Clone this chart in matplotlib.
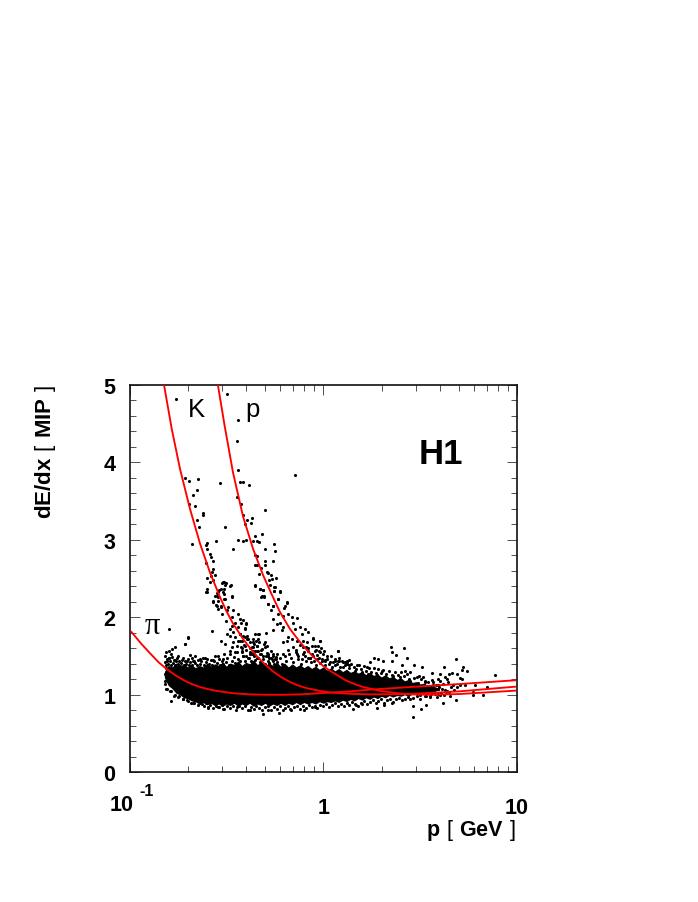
import numpy as np
import matplotlib
matplotlib.use("Agg")
import matplotlib.pyplot as plt
from matplotlib.ticker import LogLocator, NullFormatter

plt.rcParams['font.family'] = ['Liberation Sans', 'DejaVu Sans']
plt.rcParams['mathtext.fontset'] = 'custom'
plt.rcParams['mathtext.rm'] = 'Liberation Sans'
plt.rcParams['mathtext.bf'] = 'Liberation Sans:bold'

# curves: log10(p), dE/dx
pion_lp = [-0.99,-0.94,-0.892,-0.85,-0.807,-0.765,-0.722,-0.68,-0.636,-0.59,-0.55,-0.466,-0.378,-0.29,-0.205,-0.12,-0.017,0.12,0.241,0.448,0.706,0.99]
pion_d = [1.81,1.66,1.53,1.42,1.33,1.255,1.19,1.14,1.10,1.07,1.05,1.02,1.005,1.0,1.0,1.005,1.02,1.04,1.066,1.10,1.139,1.187]
kaon_lp = [-0.822,-0.782,-0.739,-0.688,-0.636,-0.585,-0.533,-0.5,-0.466,-0.414,-0.38,-0.343,-0.3,-0.259,-0.215,-0.172,-0.13,-0.085,-0.017,0.035,0.121,0.241,0.448,0.706,0.99]
kaon_d = [5.0,4.43,3.91,3.40,2.95,2.58,2.26,2.08,1.92,1.72,1.61,1.50,1.39,1.30,1.225,1.165,1.12,1.085,1.05,1.03,1.015,1.005,1.01,1.045,1.104]
proton_lp = [-0.544,-0.509,-0.466,-0.414,-0.362,-0.31,-0.267,-0.224,-0.172,-0.12,-0.085,-0.052,0.0,0.035,0.08,0.121,0.165,0.207,0.293,0.379,0.448,0.55,0.706,0.99]
proton_d = [5.0,4.47,3.87,3.30,2.88,2.54,2.30,2.07,1.85,1.68,1.58,1.49,1.37,1.31,1.24,1.18,1.135,1.10,1.05,1.022,1.005,1.0,1.01,1.053]

# dense core of the band: envelope
band_lp = [-.82,-.80,-.78,-.76,-.74,-.72,-.70,-.68,-.66,-.64,-.62,-.60,-.58,-.56,-.54,-.52,-.50,-.48,-.46,-.44,-.42,-.40,-.38,-.36,-.34,-.32,-.30,-.28,-.26,-.24,-.22,-.20,-.18,-.16,-.14,-.12,-.10,-.08,-.06,-.04,-.02,0,.02,.04,.06,.08,.10,.12,.14,.16,.18,.20,.22,.24,.26,.28,.30,.32,.34,.36,.38,.40,.42,.44,.46,.48,.50,.52,.54,.56,.58,.60]
band_top = [1.30,1.38,1.36,1.41,1.37,1.40,1.36,1.39,1.35,1.38,1.36,1.41,1.37,1.40,1.38,1.42,1.37,1.41,1.39,1.44,1.38,1.42,1.40,1.45,1.39,1.43,1.38,1.41,1.38,1.42,1.37,1.41,1.36,1.40,1.36,1.39,1.35,1.38,1.34,1.37,1.33,1.36,1.32,1.35,1.31,1.34,1.30,1.33,1.29,1.31,1.28,1.30,1.26,1.29,1.25,1.27,1.23,1.26,1.22,1.24,1.20,1.22,1.18,1.20,1.16,1.17,1.14,1.15,1.12,1.12,1.10,1.08]
band_bot = [1.22,1.12,1.08,1.02,1.00,.96,.95,.92,.91,.88,.90,.87,.89,.86,.88,.85,.88,.86,.89,.85,.88,.86,.89,.85,.88,.86,.89,.85,.88,.86,.89,.86,.89,.87,.90,.87,.90,.88,.90,.88,.91,.89,.91,.90,.92,.90,.93,.91,.94,.92,.95,.93,.96,.94,.97,.95,.98,.96,.99,.97,.99,.98,1.0,.98,1.01,1.0,1.02,1.01,1.03,1.03,1.05,1.06]

# individual tracks: log10(p), dE/dx
track_lp = [-0.758,-0.497,-0.442,-0.443,-0.442,-0.148,-0.712,-0.695,-0.645,-0.533,-0.430,-0.413,-0.383,-0.674,-0.650,-0.443,-0.695,-0.664,-0.426,-0.299,-0.622,-0.619,-0.412,-0.652,-0.643,-0.505,-0.395,-0.402,-0.371,-0.368,-0.315,-0.352,-0.440,-0.414,-0.400,-0.361,-0.340,-0.333,-0.676,-0.600,-0.603,-0.598,-0.554,-0.464,-0.302,-0.254,-0.247,-0.585,-0.579,-0.571,-0.605,-0.352,-0.340,-0.301,-0.259,-0.352,-0.340,-0.320,-0.302,-0.567,-0.574,-0.330,-0.292,-0.284,-0.272,-0.266,-0.246,-0.278,-0.598,-0.581,-0.559,-0.571,-0.585,-0.524,-0.511,-0.478,-0.602,-0.604,-0.550,-0.536,-0.511,-0.515,-0.559,-0.547,-0.511,-0.469,-0.567,-0.541,-0.550,-0.530,-0.350,-0.326,-0.309,-0.321,-0.307,-0.275,-0.251,-0.256,-0.225,-0.232,-0.285,-0.258,-0.185,-0.203,
 -0.602,-0.567,-0.519,-0.502,-0.481,-0.507,-0.529,-0.541,-0.512,-0.541,-0.471,-0.507,-0.553,-0.529,-0.490,-0.541,-0.524,-0.498,-0.464,-0.438,-0.472,-0.429,-0.398,-0.455,-0.502,-0.469,-0.481,-0.438,-0.404,-0.498,-0.464,-0.481,-0.429,-0.455,-0.412,-0.438,-0.395,-0.529,-0.505,-0.464,-0.421,-0.378,-0.361,-0.335,-0.472,-0.443,-0.404,-0.343,-0.455,-0.421,-0.378,-0.481,-0.335,-0.412,-0.361,-0.541,-0.515,-0.567,
 -0.794,-0.698,-0.713,-0.576,-0.767,-0.782,-0.794,-0.811,-0.817,-0.787,-0.748,-0.722,-0.688,-0.662,-0.636,-0.610,-0.705,-0.808,-0.765,-0.670,
 -0.351,-0.327,-0.310,-0.318,-0.306,-0.255,-0.253,-0.224,-0.232,-0.186,-0.284,-0.258,-0.270,-0.198,-0.232,-0.181,-0.210,-0.258,-0.163,-0.134,-0.224,-0.241,-0.206,-0.155,-0.261,-0.215,-0.146,-0.120,-0.181,-0.163,-0.095,-0.077,-0.112,-0.138,-0.103,-0.189,-0.210,-0.086,-0.052,-0.017,-0.060,-0.155,-0.103,-0.026,-0.043,-0.077,0.078,-0.138,-0.175,-0.206,-0.095,-0.017,-0.069,-0.008,0.009,0.078,0.124,0.060,
 -0.425,-0.399,-0.416,-0.404,-0.430,-0.396,-0.353,-0.332,-0.296,-0.335,-0.301,-0.361,-0.344,-0.318,-0.292,-0.370,-0.258,-0.284,
 -0.051,-0.016,-0.042,0.004,-0.020,0.078,0.350,0.354,0.417,0.376,0.354,0.433,0.262,0.281,0.307,0.242,0.684,0.625,0.723,0.718,0.741,0.887,0.667,0.512,0.469,0.405,0.176,0.135,0.113,0.083,0.225,0.302,0.422,0.448,0.560,0.603,0.651,0.689,0.594,0.629,0.706,0.715,0.784,0.672,0.706,0.732,0.844,0.775,0.775,0.827,0.684,0.617,0.625,0.532,0.505,0.464,0.464,0.276,0.156,0.199,0.168,0.314,0.354,0.500,0.551,0.594,0.534,0.500,0.568,0.525,0.517,0.483,0.440,0.397,0.362,0.319,0.276,0.233,0.199,0.164,0.135,0.104,0.646,0.594,0.637,0.568,0.525,
 -0.788,-0.812,-0.770,-0.722,-0.671,-0.593,-0.541,-0.519,-0.447,-0.378,-0.313,-0.228,-0.099,-0.283,-0.172,-0.042,-0.636,-0.696,-0.748,-0.791,-0.817,-0.817,-0.812,-0.794,-0.696,-0.715]
track_d = [4.81,4.88,4.54,4.27,3.90,3.84,3.79,3.76,3.78,3.73,3.74,3.74,3.70,3.58,3.64,3.55,3.46,3.43,3.46,3.38,3.34,3.32,3.32,3.25,3.17,3.16,3.26,3.20,3.21,3.28,3.07,3.05,3.00,2.98,3.00,2.98,2.98,2.97,2.94,2.96,2.93,2.88,2.98,2.88,2.88,2.95,2.85,2.81,2.78,2.73,2.70,2.80,2.79,2.72,2.73,2.67,2.67,2.64,2.67,2.62,2.59,2.56,2.59,2.57,2.54,2.50,2.51,2.48,2.51,2.53,2.54,2.48,2.45,2.44,2.45,2.41,2.36,2.32,2.31,2.35,2.36,2.32,2.27,2.28,2.23,2.26,2.20,2.21,2.14,2.13,2.40,2.36,2.35,2.26,2.26,2.42,2.39,2.34,2.33,2.23,2.17,2.14,2.19,2.12,
 2.33,2.21,2.45,2.44,2.40,2.41,2.36,2.32,2.30,2.26,2.27,2.24,2.16,2.15,2.13,2.11,2.04,2.09,2.10,2.04,2.00,1.98,1.91,1.93,1.95,1.89,1.85,1.87,1.85,1.78,1.81,1.76,1.78,1.74,1.76,1.70,1.72,1.70,1.66,1.68,1.70,1.68,1.72,1.78,1.61,1.63,1.63,1.63,1.55,1.57,1.55,1.53,1.57,1.50,1.53,1.50,1.46,1.45,
 1.85,1.74,1.65,1.82,1.61,1.59,1.57,1.55,1.50,1.53,1.50,1.47,1.51,1.50,1.46,1.48,1.44,1.46,1.45,1.44,
 2.41,2.36,2.35,2.28,2.27,2.39,2.34,2.34,2.23,2.20,2.17,2.15,2.09,2.14,2.04,2.04,2.02,1.98,2.00,1.99,1.93,1.91,1.88,1.93,1.84,1.83,1.85,1.87,1.74,1.72,1.85,1.81,1.78,1.70,1.70,1.70,1.68,1.68,1.73,1.70,1.63,1.61,1.61,1.63,1.57,1.57,1.56,1.53,1.53,1.53,1.50,1.55,1.48,1.46,1.44,1.44,1.44,1.38,
 1.93,1.92,1.96,1.86,1.79,1.76,1.78,1.78,1.80,1.72,1.68,1.68,1.63,1.59,1.63,1.61,1.53,1.53,
 1.72,1.70,1.63,1.57,1.57,1.56,1.62,1.55,1.60,1.51,1.43,1.47,1.47,1.46,1.44,1.42,1.46,1.36,1.36,1.32,1.31,1.25,1.28,1.36,1.38,1.38,1.38,1.45,1.42,1.43,1.36,1.31,1.31,1.29,1.28,1.27,1.27,1.27,1.21,1.23,1.22,1.20,1.12,1.12,1.13,1.12,1.10,1.04,1.00,1.00,0.93,0.89,1.00,0.87,0.82,0.71,0.86,0.83,0.82,0.88,0.87,0.87,0.90,0.95,0.97,1.01,1.03,1.08,1.16,1.18,1.23,1.23,1.20,1.23,1.24,1.23,1.25,1.27,1.29,1.31,1.38,1.36,1.16,1.12,1.05,1.03,0.99,
 0.92,1.08,0.99,0.95,0.89,0.83,0.84,0.82,0.84,0.80,0.75,0.76,0.80,0.80,0.82,0.84,0.90,0.92,0.97,1.05,1.18,1.27,1.35,1.48,1.73,1.66]

# tracks on the upper fringe of the band
upper_lp = [-.818,-.812,-.806,-.80,-.795,-.79,-.785,-.78,-.775,-.77,-.765,-.76,-.755,-.75,-.745,-.74,-.735,-.73,-.72,-.715,-.71,-.70,-.695,-.69,-.68,-.675,-.665,-.66,-.65,-.645,-.635,-.63,-.62,-.615,-.605,-.60,
 -.59,-.58,-.575,-.565,-.56,-.55,-.54,-.535,-.525,-.52,-.51,-.50,-.495,-.485,-.48,-.47,-.46,-.455,-.445,-.44,-.43,-.42,-.415,-.405,-.40,-.39,-.38,-.375,-.365,-.36,-.35,-.34,-.335,-.325,-.32,-.31,-.30,-.295,-.285,-.28,-.27,-.26,-.255,-.245,
 -.24,-.225,-.215,-.20,-.19,-.18,-.165,-.155,-.14,-.13,-.115,-.105,-.09,-.08,-.065,-.055,-.04,-.03,-.015,-.005,.01,.02,.035,.045,.06,.07,.085,.095,.11,.12,.135,.145,.16,.17,.185,.195,.21,.22,.235,.245,.26,.27,.285,.30,.31,.325,.34,.355,.37,.385,.40,.415,.43]
upper_d = [1.42,1.38,1.44,1.40,1.47,1.43,1.39,1.49,1.41,1.45,1.38,1.43,1.47,1.40,1.44,1.37,1.41,1.45,1.39,1.43,1.40,1.46,1.38,1.42,1.48,1.39,1.44,1.41,1.38,1.45,1.40,1.43,1.48,1.38,1.42,1.46,
 1.40,1.45,1.38,1.43,1.50,1.41,1.46,1.39,1.44,1.40,1.52,1.42,1.47,1.39,1.56,1.44,1.49,1.41,1.55,1.46,1.43,1.60,1.50,1.44,1.58,1.47,1.52,1.43,1.62,1.50,1.45,1.56,1.48,1.42,1.53,1.46,1.40,1.50,1.44,1.41,1.48,1.43,1.40,1.46,
 1.42,1.47,1.40,1.50,1.44,1.58,1.48,1.42,1.55,1.46,1.40,1.52,1.44,1.48,1.42,1.50,1.38,1.46,1.41,1.44,1.38,1.50,1.42,1.36,1.46,1.40,1.36,1.43,1.38,1.42,1.35,1.40,1.36,1.33,1.39,1.33,1.37,1.31,1.35,1.30,1.34,1.28,1.33,1.28,1.32,1.27,1.31,1.26,1.30,1.25,1.29,1.24,1.27]

# tracks on the lower fringe of the band
lower_lp = [-.815,-.805,-.795,-.785,-.775,-.765,-.755,-.745,-.735,-.725,-.715,-.705,-.695,-.685,-.675,-.665,-.655,-.645,-.635,-.625,-.615,-.605,-.595,-.585,-.57,-.555,-.54,-.525,-.51,-.495,-.48,-.465,-.45,-.435,-.42,-.405,-.39,-.375,-.36,-.345,-.33,-.315,-.30,-.285,-.27,-.255,-.24,-.225,-.21,-.195,-.18,-.165,-.15,-.135,-.12,-.105,-.09,-.075,-.06,-.045,-.03,-.015,0.0,.015,.03,.045,.06,.075,.09,.105,.12,.135,.15,.165,.18,.195,.21,.225,.24,.255,.27,.285,.30,.315,.33,.345,.36,.375,.39,.405,.42,.435,.45]
lower_d = [1.14,1.08,1.17,1.05,1.10,1.00,1.05,.98,1.02,.95,1.00,.93,.97,.90,.95,.89,.93,.87,.91,.88,.85,.89,.84,.87,.83,.86,.84,.87,.82,.85,.83,.86,.81,.85,.83,.86,.81,.84,.82,.85,.83,.80,.84,.86,.81,.84,.82,.85,.80,.83,.85,.81,.84,.86,.82,.85,.83,.87,.84,.86,.83,.87,.85,.88,.84,.87,.89,.85,.88,.86,.90,.87,.91,.88,.86,.90,.92,.88,.91,.93,.89,.92,.94,.90,.93,.95,.91,.94,.96,.93,.95,.97,.94]

# tracks at the sparse high-momentum end of the band
tail_lp = [.45,.46,.47,.48,.49,.50,.505,.515,.52,.53,.54,.545,.555,.56,.57,.58,.585,.595,.60,.61,.62,.63,.64,.65,.66,.455,.465,.475,.485,.495,.51,.525,.535,.55,.565,.575,.59,.605,.615,.635,.655,.675,.69]
tail_d = [1.18,1.02,1.22,1.06,1.15,1.00,1.20,1.04,1.12,.98,1.17,1.08,1.01,1.19,1.05,1.13,.97,1.10,1.18,1.02,1.14,1.06,1.20,1.03,1.10,1.10,.96,1.14,.99,1.24,1.09,1.16,1.03,.99,1.13,1.01,1.07,1.00,1.08,1.04,.98,1.06,1.10]

# tracks in the kaon and proton mounds above the band
mound_lp = [-.43,-.42,-.41,-.40,-.39,-.38,-.37,-.36,-.35,-.34,-.33,-.32,-.31,-.30,-.29,-.28,-.27,-.26,-.25,-.24,-.425,-.405,-.385,-.365,-.345,-.325,-.305,-.285,-.265,-.245,
 -.14,-.12,-.10,-.08,-.06,-.04,-.02,0.0,.02,.04,.06,.08,.10,.12,-.13,-.11,-.09,-.07,-.05,-.03,-.01,.01,.03,.05]
mound_d = [1.70,1.55,1.64,1.50,1.72,1.60,1.52,1.66,1.56,1.48,1.68,1.58,1.50,1.62,1.54,1.47,1.56,1.50,1.46,1.52,1.62,1.75,1.48,1.57,1.70,1.53,1.65,1.50,1.46,1.49,
 1.58,1.64,1.55,1.60,1.52,1.58,1.48,1.53,1.46,1.50,1.44,1.47,1.42,1.40,1.50,1.46,1.62,1.47,1.43,1.51,1.60,1.45,1.40,1.42]

xticks = [0.1, 1, 10]
xtick_labels = ['', '1', '10']
yticks = [0, 1, 2, 3, 4, 5]

fig = plt.figure(figsize=(6.98, 9.03), dpi=100)
ax = fig.add_axes([129.5/698, (903-773.3)/903, 387.5/698, 387.6/903])
ax.set_xscale('log')
ax.set_xlim(0.1, 10)
ax.set_ylim(0, 5)

ax.fill_between(10.0**np.array(band_lp), band_bot, band_top, color='k', lw=0, zorder=2)
for a, b in ((track_lp, track_d), (upper_lp, upper_d), (lower_lp, lower_d), (tail_lp, tail_d), (mound_lp, mound_d)):
    ax.scatter(10.0**np.array(a), b, s=5.0, c='k', linewidths=0, zorder=2)
for a, b in ((pion_lp, pion_d), (kaon_lp, kaon_d), (proton_lp, proton_d)):
    ax.plot(10.0**np.array(a), b, color='#ff0000', lw=1.35, zorder=3, solid_joinstyle='round')

ax.set_xticks(xticks)
ax.set_xticklabels(xtick_labels)
ax.set_yticks(yticks)
ax.set_yticks(np.arange(0, 5.01, 0.2), minor=True)
ax.xaxis.set_minor_locator(LogLocator(base=10, subs=range(2, 10), numticks=20))
ax.xaxis.set_minor_formatter(NullFormatter())
ax.tick_params(which='major', direction='in', top=True, right=True, length=7, width=0.6, color='#333333', labelsize=15.5)
ax.tick_params(which='minor', direction='in', top=True, right=True, length=4, width=0.6, color='#333333')
ax.tick_params(axis='x', which='major', pad=18)
ax.tick_params(axis='y', which='major', pad=10)
for t in ax.get_xticklabels() + ax.get_yticklabels():
    t.set_fontweight('bold')
for s in ax.spines.values():
    s.set_linewidth(1.2)
    s.set_color('#111111')

def px(x, y, s, **kw):
    fig.text(x/698, 1-y/903, s, **kw)

px(121.5, 806, '10', fontsize=15.5, fontweight='bold', ha='center', va='center')
px(146.5, 792, '-1', fontsize=11.5, fontweight='bold', ha='center', va='center')
px(516, 836.5, r'$\mathbf{p}\ \mathrm{[}\ \mathbf{GeV}\ \mathrm{]}$', fontsize=15.5, ha='right', va='baseline')
px(46, 452, r'$\mathbf{dE/dx}\ \mathrm{[}\ \mathbf{MIP}\ \mathrm{]}$', fontsize=16, rotation=90, ha='center', va='center')
px(441, 454, 'H1', fontsize=25, fontweight='bold', ha='center', va='center')
px(196, 417, 'K', fontsize=18.5, ha='center', va='baseline')
px(253, 417, 'p', fontsize=18.5, ha='center', va='baseline')
px(152, 634, 'π', fontsize=22, ha='center', va='baseline', family=['Liberation Serif', 'DejaVu Sans'])

fig.savefig('out.png', dpi=100)
